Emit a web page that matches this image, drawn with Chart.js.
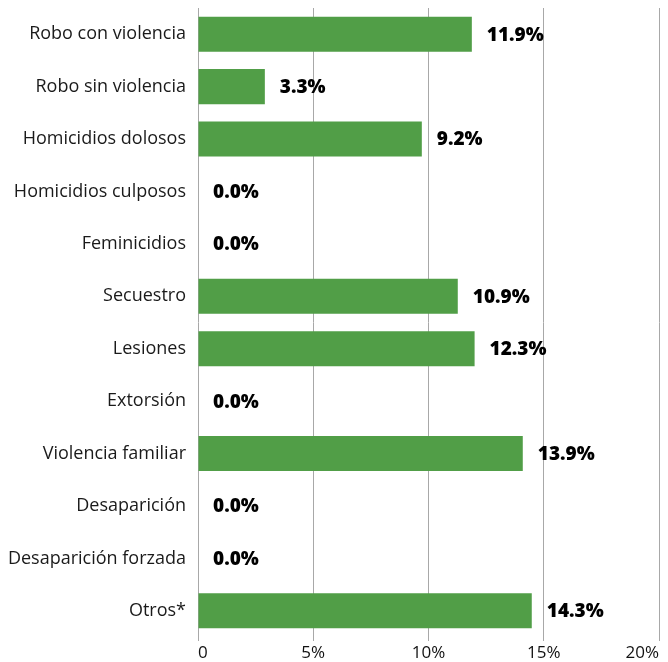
<!DOCTYPE html>
<html lang="es">
  <head>
    <meta charset="UTF-8" />
    <title>Delitos</title>
    <style>
      html, body { margin: 0; padding: 0; background: #fff; }
      .wrap { width: 668px; height: 662px; position: relative; }
    </style>
  </head>
  <body>
    <div class="wrap">
      <canvas id="delitosChart" width="668" height="662"></canvas>
    </div>

    <script src="https://cdn.jsdelivr.net/npm/chart.js"></script>
    <script>
      const categorias = [
        "Robo con violencia",
        "Robo sin violencia",
        "Homicidios dolosos",
        "Homicidios culposos",
        "Feminicidios",
        "Secuestro",
        "Lesiones",
        "Extorsión",
        "Violencia familiar",
        "Desaparición",
        "Desaparición forzada",
        "Otros*",
      ];
      // largo de las barras
      const valores = [11.88, 2.9, 9.71, 0, 0, 11.27, 12.0, 0, 14.09, 0, 0, 14.48];
      // etiquetas tal como aparecen
      const etiquetas = ["11.9%", "3.3%", "9.2%", "0.0%", "0.0%", "10.9%", "12.3%", "0.0%", "13.9%", "0.0%", "0.0%", "14.3%"];
      const ticksX = [0, 5, 10, 15, 20];

      const fuente = "'Open Sans', sans-serif";

      // dibuja las etiquetas al final de cada barra
      const etiquetasPlugin = {
        id: "etiquetas",
        afterDatasetsDraw(chart) {
          const ctx = chart.ctx;
          const meta = chart.getDatasetMeta(0);
          ctx.save();
          ctx.font = "800 19px " + fuente;
          ctx.fillStyle = "#000";
          ctx.textAlign = "left";
          ctx.textBaseline = "middle";
          meta.data.forEach((bar, i) => {
            ctx.fillText(etiquetas[i], bar.x + 15, bar.y + 1);
          });
          ctx.restore();
        },
      };

      const ctx = document.getElementById("delitosChart").getContext("2d");
      new Chart(ctx, {
        type: "bar",
        data: {
          labels: categorias,
          datasets: [
            {
              data: valores,
              backgroundColor: "#519e47",
              borderWidth: 0,
              categoryPercentage: 1,
              barPercentage: 0.67,
            },
          ],
        },
        options: {
          indexAxis: "y",
          responsive: false,
          animation: false,
          layout: { padding: { top: 8, right: 9, left: 0, bottom: 0 } },
          plugins: {
            legend: { display: false },
            tooltip: { enabled: false },
          },
          scales: {
            x: {
              min: 0,
              max: 20,
              afterBuildTicks(scale) {
                scale.ticks = ticksX.map((v) => ({ value: v }));
              },
              afterFit(scale) {
                scale.height = 25;
              },
              border: { display: false },
              grid: {
                color: "#a8a8a8",
                lineWidth: 1,
                tickLength: 4,
              },
              ticks: {
                align: "inner",
                padding: 2,
                color: "#111",
                font: { family: fuente, size: 17 },
                callback: (v) => (v === 0 ? "0" : v + "%"),
              },
            },
            y: {
              afterFit(scale) {
                scale.width = 198;
                scale.paddingTop = 0;
                scale.paddingBottom = 0;
              },
              border: { display: false },
              grid: { display: false, drawTicks: false },
              ticks: {
                padding: 12,
                color: "#1a1a1a",
                font: { family: fuente, size: 18 },
              },
            },
          },
        },
        plugins: [etiquetasPlugin],
      });
    </script>
  </body>
</html>
